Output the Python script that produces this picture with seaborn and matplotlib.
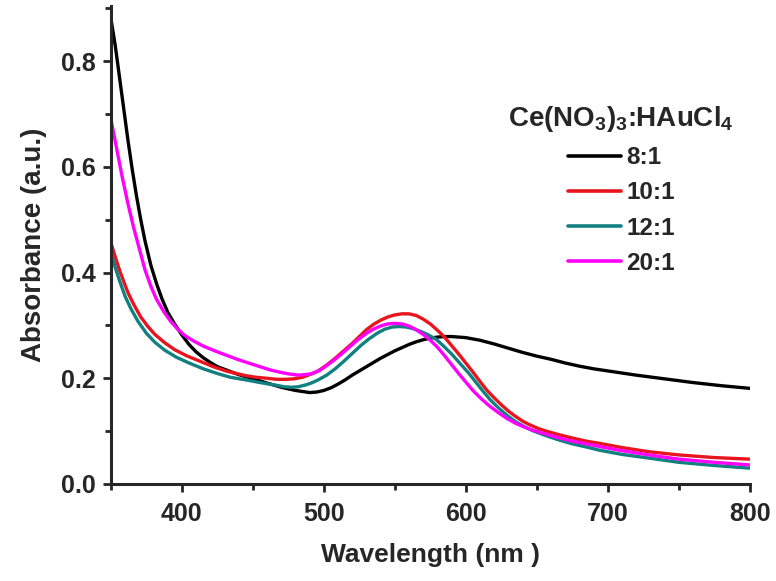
import numpy as np
import pandas as pd
import matplotlib
matplotlib.use("Agg")
import matplotlib.pyplot as plt
from matplotlib.ticker import MultipleLocator, FormatStrFormatter
import seaborn as sns

# Absorbance spectra
wl_8 = [350, 353, 356, 359, 362, 365, 368, 371, 374, 378, 382, 386, 390, 395, 400, 405, 410, 415, 420,
        425, 430, 435, 440, 445, 450, 455, 460, 465, 470, 475, 480, 485, 490, 495, 500, 505, 510, 515,
        520, 525, 530, 535, 540, 545, 550, 555, 560, 565, 570, 575, 580, 585, 590, 595, 600, 610, 620,
        630, 640, 650, 660, 670, 680, 690, 700, 720, 740, 760, 780, 800]
abs_8 = [0.88, 0.83, 0.77, 0.71, 0.65, 0.595, 0.545, 0.50, 0.46, 0.415, 0.38, 0.35, 0.325, 0.302, 0.282, 0.264, 0.250, 0.239, 0.230,
         0.222, 0.217, 0.212, 0.207, 0.203, 0.199, 0.195, 0.191, 0.187, 0.183, 0.180, 0.177, 0.175, 0.173, 0.174, 0.177, 0.182, 0.189, 0.197,
         0.206, 0.214, 0.222, 0.230, 0.238, 0.245, 0.252, 0.258, 0.264, 0.269, 0.273, 0.276, 0.278, 0.279, 0.279, 0.278, 0.277, 0.272, 0.265,
         0.257, 0.249, 0.242, 0.236, 0.229, 0.223, 0.218, 0.214, 0.206, 0.199, 0.192, 0.186, 0.181]

wl_10 = [350, 353, 356, 359, 362, 366, 371, 376, 381, 388, 395, 403, 413, 422, 432, 445, 452, 460, 467, 473,
         479, 485, 490, 496, 502, 508, 514, 520, 525, 530, 535, 540, 545, 550, 555, 560, 565, 570, 575, 580,
         585, 590, 595, 600, 605, 610, 615, 620, 625, 630, 635, 640, 645, 652, 658, 666, 675, 685, 694, 710,
         729, 750, 775, 800]
abs_10 = [0.456, 0.43, 0.405, 0.383, 0.362, 0.34, 0.316, 0.298, 0.283, 0.267, 0.254, 0.243, 0.232, 0.222, 0.213, 0.205, 0.202, 0.200, 0.198, 0.198,
          0.199, 0.202, 0.207, 0.214, 0.225, 0.238, 0.252, 0.266, 0.279, 0.292, 0.302, 0.310, 0.316, 0.320, 0.322, 0.322, 0.319, 0.312, 0.303, 0.291,
          0.278, 0.262, 0.246, 0.229, 0.212, 0.194, 0.177, 0.163, 0.150, 0.138, 0.128, 0.119, 0.112, 0.104, 0.099, 0.093, 0.087, 0.081, 0.077, 0.069,
          0.061, 0.055, 0.050, 0.047]

wl_12 = [350, 353, 356, 360, 364, 369, 375, 381, 388, 396, 405, 415, 425, 434, 445, 455, 466, 472, 477, 482,
         488, 492, 496, 502, 508, 514, 520, 526, 532, 538, 543, 548, 553, 558, 563, 568, 573, 579, 584, 590,
         596, 602, 607, 612, 617, 623, 629, 635, 641, 647, 658, 666, 675, 685, 694, 710, 729, 750, 775, 800]
abs_12 = [0.437, 0.41, 0.385, 0.355, 0.332, 0.308, 0.285, 0.268, 0.253, 0.240, 0.229, 0.218, 0.209, 0.202, 0.197, 0.192, 0.187, 0.184, 0.183, 0.184,
          0.188, 0.192, 0.197, 0.206, 0.218, 0.232, 0.247, 0.262, 0.275, 0.286, 0.293, 0.297, 0.298, 0.297, 0.294, 0.289, 0.283, 0.274, 0.262, 0.246,
          0.228, 0.210, 0.193, 0.176, 0.160, 0.144, 0.130, 0.118, 0.109, 0.101, 0.090, 0.083, 0.076, 0.070, 0.064, 0.056, 0.049, 0.041, 0.035, 0.030]

wl_20 = [350, 354, 358, 362, 366, 370, 374, 378, 382, 387, 392, 397, 402, 408, 415, 425, 432, 440, 448, 455,
         462, 470, 476, 482, 487, 492, 497, 502, 507, 512, 518, 524, 530, 535, 540, 545, 550, 555, 560, 565,
         570, 575, 580, 585, 590, 595, 600, 605, 611, 617, 623, 629, 635, 641, 647, 658, 666, 675, 685, 694,
         710, 729, 750, 775, 800]
abs_20 = [0.69, 0.635, 0.58, 0.53, 0.485, 0.445, 0.405, 0.375, 0.35, 0.327, 0.308, 0.293, 0.281, 0.271, 0.261, 0.250, 0.243, 0.235, 0.228, 0.222,
          0.216, 0.211, 0.208, 0.206, 0.207, 0.209, 0.215, 0.224, 0.234, 0.245, 0.259, 0.273, 0.285, 0.293, 0.299, 0.303, 0.304, 0.303, 0.299, 0.292,
          0.283, 0.272, 0.259, 0.243, 0.226, 0.209, 0.193, 0.177, 0.161, 0.147, 0.135, 0.124, 0.115, 0.108, 0.102, 0.093, 0.087, 0.081, 0.076, 0.071,
          0.063, 0.055, 0.047, 0.041, 0.036]

ratios = ["8:1", "10:1", "12:1", "20:1"]
colors = ["#000000", "#e8141e", "#128080", "#ff00ff"]

frames = []
for r, w, a in zip(ratios, [wl_8, wl_10, wl_12, wl_20], [abs_8, abs_10, abs_12, abs_20]):
    frames.append(pd.DataFrame({"wavelength": w, "absorbance": a, "ratio": r}))
df = pd.concat(frames, ignore_index=True)

sns.set_style("ticks")
plt.rcParams["font.family"] = ["Liberation Sans", "DejaVu Sans"]
plt.rcParams["font.weight"] = "bold"
plt.rcParams["mathtext.fontset"] = "custom"
plt.rcParams["mathtext.bf"] = "Liberation Sans:bold"
plt.rcParams["mathtext.rm"] = "Liberation Sans:bold"
plt.rcParams["mathtext.default"] = "bf"

fig = plt.figure(figsize=(7.76, 5.81), dpi=100)
ax = fig.add_axes([0.143, 0.167, 0.823, 0.823])

sns.lineplot(data=df, x="wavelength", y="absorbance", hue="ratio", hue_order=ratios,
             palette=colors, linewidth=2.4, estimator=None, sort=True, ax=ax)

ax.set_xlim(350, 800)
ax.set_ylim(0, 0.905)
ax.xaxis.set_major_locator(MultipleLocator(100))
ax.xaxis.set_minor_locator(MultipleLocator(50))
ax.yaxis.set_major_locator(MultipleLocator(0.2))
ax.yaxis.set_minor_locator(MultipleLocator(0.1))
ax.yaxis.set_major_formatter(FormatStrFormatter("%.1f"))
ax.tick_params(which="major", direction="out", length=6, width=2, labelsize=18)
ax.tick_params(axis="x", which="major", pad=7)
ax.tick_params(axis="y", which="major", pad=5)
ax.tick_params(which="minor", direction="out", length=4, width=2)
for lab in ax.get_xticklabels() + ax.get_yticklabels():
    lab.set_fontweight("bold")

sns.despine(ax=ax)
for s in ["left", "bottom"]:
    ax.spines[s].set_linewidth(2.2)

ax.set_xlabel("Wavelength (nm )", fontsize=19, fontweight="bold", labelpad=12)
ax.set_ylabel("Absorbance (a.u.)", fontsize=20, fontweight="bold", labelpad=10)

leg = ax.legend(title=r"Ce(NO$_3$)$_3$:HAuCl$_4$", frameon=False, fontsize=17.5,
                title_fontsize=20, loc="upper right", bbox_to_anchor=(1.01, 0.84),
                handlelength=2.2, handletextpad=0.2, labelspacing=0.5)
leg.get_title().set_fontweight("bold")
for t in leg.get_texts():
    t.set_fontweight("bold")
for h in leg.get_lines():
    h.set_linewidth(2.6)

fig.savefig("out.png", dpi=100)
